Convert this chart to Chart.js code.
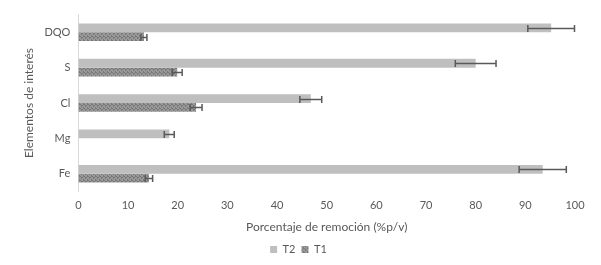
<!DOCTYPE html>
<html>
<head>
<meta charset="utf-8">
<script src="https://cdn.jsdelivr.net/npm/chart.js@4"></script>
<style>
  html, body { margin: 0; padding: 0; background: #fff; }
  #wrap { width: 601px; height: 265px; }
</style>
</head>
<body>
<div id="wrap"><canvas id="chart" width="601" height="265"></canvas></div>
<script>
const categories = ['DQO', 'S', 'Cl', 'Mg', 'Fe'];
const t2Values = [95.2, 80.0, 46.8, 18.3, 93.5];
const t2Errors = [4.7, 4.1, 2.2, 1.0, 4.75];
const t1Values = [13.2, 19.9, 23.7, null, 14.2];
const t1Errors = [0.6, 1.0, 1.2, null, 0.75];
const xTicks = [0, 10, 20, 30, 40, 50, 60, 70, 80, 90, 100];

// stippled fill for T1
function makePattern() {
  const c = document.createElement('canvas');
  c.width = 4; c.height = 4;
  const g = c.getContext('2d');
  g.fillStyle = '#999999';
  g.fillRect(0, 0, 4, 4);
  g.fillStyle = '#787878';
  [[0, 0], [2, 1], [1, 2], [3, 3], [3, 0], [1, 1]].forEach(([x, y]) => g.fillRect(x, y, 1, 1));
  return g.createPattern(c, 'repeat');
}
const t1Fill = makePattern();

const errorBars = {
  id: 'errorBars',
  afterDatasetsDraw(chart) {
    const ctx = chart.ctx;
    const xs = chart.scales.x;
    chart.data.datasets.forEach((ds, i) => {
      const meta = chart.getDatasetMeta(i);
      meta.data.forEach((bar, j) => {
        const v = ds.data[j];
        const e = ds.errors[j];
        if (v == null || e == null) return;
        const x1 = xs.getPixelForValue(v - e);
        const x2 = xs.getPixelForValue(v + e);
        const y = Math.round(bar.y) + 0.5;
        ctx.save();
        ctx.strokeStyle = '#595959';
        ctx.lineWidth = 1.5;
        ctx.beginPath();
        ctx.moveTo(x1, y); ctx.lineTo(x2, y);
        ctx.moveTo(x1, y - 3.5); ctx.lineTo(x1, y + 3.5);
        ctx.moveTo(x2, y - 3.5); ctx.lineTo(x2, y + 3.5);
        ctx.stroke();
        ctx.restore();
      });
    });
  }
};

Chart.defaults.font.family = 'Lato, "Open Sans", sans-serif';
Chart.defaults.color = '#595959';

new Chart(document.getElementById('chart'), {
  type: 'bar',
  data: {
    labels: categories,
    datasets: [
      { label: 'T2', data: t2Values, errors: t2Errors, backgroundColor: '#bfbfbf' },
      { label: 'T1', data: t1Values, errors: t1Errors, backgroundColor: t1Fill }
    ]
  },
  options: {
    indexAxis: 'y',
    responsive: false,
    animation: false,
    layout: { padding: { left: 22, right: 26, top: 0, bottom: 0 } },
    datasets: { bar: { categoryPercentage: 0.5, barPercentage: 1 } },
    scales: {
      x: {
        min: 0, max: 100,
        afterBuildTicks: (s) => { s.ticks = xTicks.map(v => ({ value: v })); },
        grid: { display: false, drawTicks: false },
        border: { display: false },
        ticks: { font: { size: 11 }, padding: 7 },
        title: { display: true, text: 'Porcentaje de remoción (%p/v)', font: { size: 12 }, padding: { top: 1, bottom: 4 } }
      },
      y: {
        grid: { display: false, drawTicks: false },
        border: { display: true, color: '#d9d9d9', dash: [2, 2] },
        ticks: { font: { size: 11 }, padding: 8 },
        title: { display: true, text: 'Elementos de interés', font: { size: 12 }, padding: { top: 0, bottom: 0 } }
      }
    },
    plugins: {
      legend: {
        position: 'bottom',
        labels: { boxWidth: 7, boxHeight: 7, font: { size: 11 }, padding: 6 }
      },
      tooltip: { enabled: false }
    }
  },
  plugins: [errorBars]
});
</script>
</body>
</html>
